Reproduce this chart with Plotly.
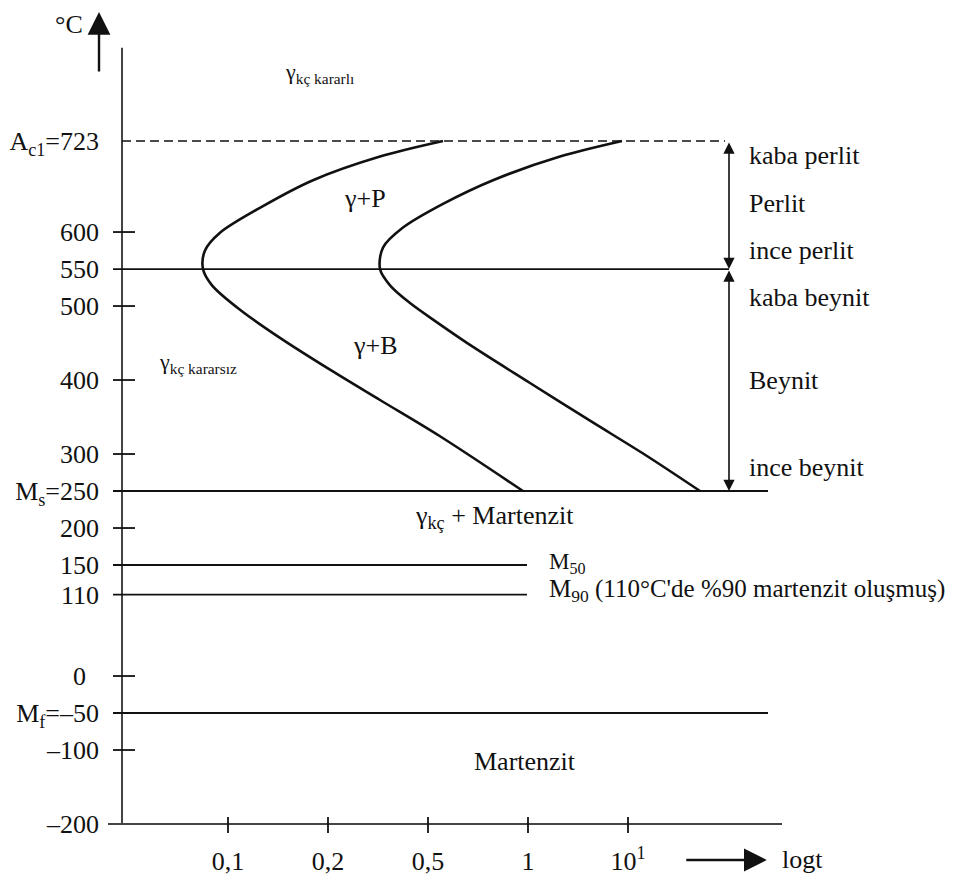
import plotly.graph_objects as go

# ---------------- data ----------------
# y-axis (temperature, °C) labelled values
y_tick_vals = [723, 600, 550, 500, 400, 300, 250, 200, 150, 110, 0, -50, -100, -200]
y_tick_text = ["A<sub>c1</sub>=723", "600", "550", "500", "400", "300",
               "M<sub>s</sub>=250", "200", "150", "110", "0&nbsp;&nbsp;",
               "M<sub>f</sub>=–50", "–100", "–200"]
y_minor_marks = [600, 500, 400, 300, 200, 0, -100]

# x-axis (log t, schematic positions)
x_tick_pos = [1, 2, 3, 4, 5]
x_tick_text = ["0,1", "0,2", "0,5", "1", "10<sup>1</sup>"]

# transformation start curve (time position, temperature)
start_t = [3.15, 2.52, 1.85, 1.35, 0.92, 0.77, 0.75, 0.84, 1.12, 1.52, 2.02, 2.52, 3.12, 3.95]
start_T = [723, 702, 670, 635, 599, 575, 550, 528, 495, 457, 414, 373, 324, 250]

# transformation finish curve
finish_t = [4.94, 4.32, 3.65, 3.15, 2.75, 2.55, 2.52, 2.62, 2.82, 3.09, 3.47, 4.02, 4.62, 5.17, 5.72]
finish_T = [723, 702, 670, 638, 606, 579, 550, 528, 504, 478, 443, 396, 345, 299, 250]

# horizontal reference temperatures and where they end on the time axis
ref_T = [550, 250, 150, 110, -50]
ref_end = [6.01, 6.40, 3.99, 3.99, 6.40]
A1_T = 723

FONT = "Liberation Serif"
INK = "#111111"

# ---------------- geometry helpers (layout only) ----------------
x_axis_pos = -0.06
x_lo, x_hi = -0.2, 6.72
y_lo, y_hi = -221.6, 859.5
line_start = -0.15

fig = go.Figure()

# axes lines
fig.add_trace(go.Scatter(
    x=[x_axis_pos, x_axis_pos, None, x_lo, 6.54],
    y=[849, -200, None, -200, -200],
    mode="lines", line=dict(color="#444444", width=2),
    hoverinfo="skip", showlegend=False))

# y tick marks crossing the axis
tx, ty = [], []
for v in y_minor_marks:
    tx += [line_start, 0.07, None]
    ty += [v, v, None]
fig.add_trace(go.Scatter(x=tx, y=ty, mode="lines",
                         line=dict(color=INK, width=1.8),
                         hoverinfo="skip", showlegend=False))

# x tick marks crossing the bottom axis
xx, xy = [], []
for p in x_tick_pos:
    xx += [p, p, None]
    xy += [-190.5, -212, None]
fig.add_trace(go.Scatter(x=xx, y=xy, mode="lines",
                         line=dict(color=INK, width=1.8),
                         hoverinfo="skip", showlegend=False))

# A1 dashed line
fig.add_trace(go.Scatter(x=[x_axis_pos, 5.97], y=[A1_T, A1_T], mode="lines",
                         line=dict(color=INK, width=1.5, dash="9px,5px"),
                         hoverinfo="skip", showlegend=False))

# horizontal reference lines
hx, hy = [], []
for T, e in zip(ref_T, ref_end):
    hx += [line_start, e, None]
    hy += [T, T, None]
fig.add_trace(go.Scatter(x=hx, y=hy, mode="lines",
                         line=dict(color=INK, width=1.8),
                         hoverinfo="skip", showlegend=False))

# C curves
fig.add_trace(go.Scatter(x=start_t, y=start_T, mode="lines",
                         line=dict(color=INK, width=2.6, shape="spline", smoothing=0.9),
                         hoverinfo="skip", showlegend=False))
fig.add_trace(go.Scatter(x=finish_t, y=finish_T, mode="lines",
                         line=dict(color=INK, width=2.6, shape="spline", smoothing=0.9),
                         hoverinfo="skip", showlegend=False))

ann = []

def txt(x, y, s, size=26, xanchor="center", ref="data"):
    r = "x" if ref == "data" else "paper"
    ry = "y" if ref == "data" else "paper"
    ann.append(dict(x=x, y=y, xref=r, yref=ry, text=s, showarrow=False,
                    xanchor=xanchor, yanchor="middle",
                    font=dict(family=FONT, size=size, color=INK)))

def arrow(x, y, ax, ay, both=False, size=1.0, width=1.5):
    ann.append(dict(x=x, y=y, ax=ax, ay=ay, xref="x", yref="y",
                    axref="x", ayref="y", text="", showarrow=True,
                    arrowhead=2, arrowsize=size, arrowwidth=width,
                    arrowcolor=INK, arrowside="end+start" if both else "end",
                    startarrowhead=2, startarrowsize=size))

def paper_arrow(x, y, dx, dy, size=1.0, width=2.0):
    ann.append(dict(x=x, y=y, ax=dx, ay=dy, xref="paper", yref="paper",
                    text="", showarrow=True, arrowhead=2, arrowsize=size,
                    arrowwidth=width, arrowcolor=INK))

# region labels
txt(1.55, 815, "γ<sub>kç kararlı</sub>", size=22, xanchor="left")
txt(2.37, 645, "γ+P")
txt(2.47, 447, "γ+B")
txt(0.29, 423, "γ<sub>kç kararsız</sub>", size=22, xanchor="left")
txt(3.66, 215, "γ<sub>kç</sub> + Martenzit")
txt(4.19, 153, "M<sub>50</sub>", size=23, xanchor="left")
txt(4.19, 115, "M<sub>90</sub> (110°C'de %90 martenzit oluşmuş)", size=25, xanchor="left")
txt(3.97, -116, "Martenzit")

# right side labels
txt(6.19, 704, "kaba perlit", xanchor="left")
txt(6.19, 638, "Perlit", xanchor="left")
txt(6.19, 575, "ince perlit", xanchor="left")
txt(6.19, 512, "kaba beynit", xanchor="left")
txt(6.19, 400, "Beynit", xanchor="left")
txt(6.19, 282, "ince beynit", xanchor="left")

# range arrows
arrow(6.01, 550, 6.01, A1_T, both=True, size=1.4, width=1.6)
arrow(6.01, 250, 6.01, 550, both=True, size=1.4, width=1.6)

# axis name arrows (paper coordinates, outside plot area)
paper_arrow(-0.013, 1.035, 0, 61, size=1.9, width=2.4)
txt(-0.056, 1.019, "°C", ref="paper")
paper_arrow(0.952, -0.025, -82, 0, size=1.9, width=2.4)
txt(0.971, -0.025, "logt", xanchor="left", ref="paper")

fig.update_layout(
    width=965, height=881,
    margin=dict(l=108, r=165, t=40, b=41, autoexpand=False),
    paper_bgcolor="white", plot_bgcolor="white",
    showlegend=False,
    annotations=ann,
    xaxis=dict(range=[x_lo, x_hi], showgrid=False, zeroline=False, showline=False,
               automargin=False,
               tickmode="array", tickvals=x_tick_pos, ticktext=x_tick_text,
               ticks="", ticklabelstandoff=3,
               tickfont=dict(family=FONT, size=26, color=INK)),
    yaxis=dict(range=[y_lo, y_hi], showgrid=False, zeroline=False, showline=False,
               automargin=False,
               tickmode="array", tickvals=y_tick_vals, ticktext=y_tick_text,
               ticks="", ticklabelstandoff=8,
               tickfont=dict(family=FONT, size=26, color=INK)),
)

fig.write_html("out.html",
               config={"displayModeBar": False},
               post_script="document.body.style.margin='0px';document.body.style.overflow='hidden';")
